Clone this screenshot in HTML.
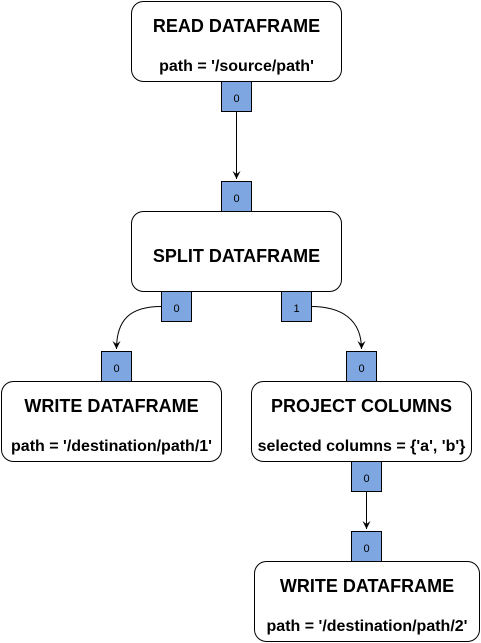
<!DOCTYPE html>
<html><head><style>body{margin:0;background:#fff}</style></head><body>
<svg width="481" height="643" xmlns="http://www.w3.org/2000/svg" style="display:block">
<defs><marker id="a" markerWidth="10" markerHeight="10" refX="8" refY="5" orient="auto" markerUnits="userSpaceOnUse"><path d="M0,1 L8,5 L0,9 L3,5 Z" fill="#000"/></marker></defs>
<g fill="#fff" stroke="#000" stroke-width="1">
<rect x="131.5" y="1.5" width="210" height="80" rx="12"/>
<rect x="131.5" y="211.5" width="210" height="80" rx="12"/>
<rect x="1.5" y="381.5" width="220" height="80" rx="12"/>
<rect x="251.5" y="381.5" width="220" height="80" rx="12"/>
<rect x="254.5" y="561.5" width="225" height="80" rx="12"/>
</g>
<g fill="none" stroke="#000" stroke-width="1">
<path d="M236.5 111 V179" marker-end="url(#a)"/>
<path d="M161 306.5 C130 306.5 116.5 320 116.5 349" marker-end="url(#a)"/>
<path d="M311 306.5 C342 306.5 361.5 320 361.5 349" marker-end="url(#a)"/>
<path d="M366.5 491 V529" marker-end="url(#a)"/>
</g>
<g fill="#7ea6e0" stroke="#000" stroke-width="1">
<rect x="221.5" y="81.5" width="30" height="30"/>
<rect x="221.5" y="181.5" width="30" height="30"/>
<rect x="161.5" y="291.5" width="30" height="30"/>
<rect x="281.5" y="291.5" width="30" height="30"/>
<rect x="101.5" y="351.5" width="30" height="30"/>
<rect x="346.5" y="351.5" width="30" height="30"/>
<rect x="351.5" y="461.5" width="30" height="30"/>
<rect x="351.5" y="531.5" width="30" height="30"/>
</g>
<g font-family="Liberation Sans, sans-serif" font-size="11" text-anchor="middle">
<text x="236.5" y="102">0</text><text x="236.5" y="202">0</text>
<text x="176.5" y="312">0</text><text x="296.5" y="312">1</text>
<text x="116.5" y="372">0</text><text x="361.5" y="372">0</text>
<text x="366.5" y="482">0</text><text x="366.5" y="552">0</text>
</g>
<g font-family="Liberation Sans, sans-serif" font-weight="bold" text-anchor="middle">
<text x="236.5" y="32" font-size="18">READ DATAFRAME</text>
<text x="236.5" y="71" font-size="16">path = '/source/path'</text>
<text x="236.5" y="262" font-size="18">SPLIT DATAFRAME</text>
<text x="111.5" y="412" font-size="18">WRITE DATAFRAME</text>
<text x="111.5" y="451" font-size="16">path = '/destination/path/1'</text>
<text x="361.5" y="412" font-size="18">PROJECT COLUMNS</text>
<text x="361.5" y="451" font-size="16">selected columns = {'a', 'b'}</text>
<text x="367" y="592" font-size="18">WRITE DATAFRAME</text>
<text x="367" y="631" font-size="16">path = '/destination/path/2'</text>
</g>
</svg>
</body></html>
